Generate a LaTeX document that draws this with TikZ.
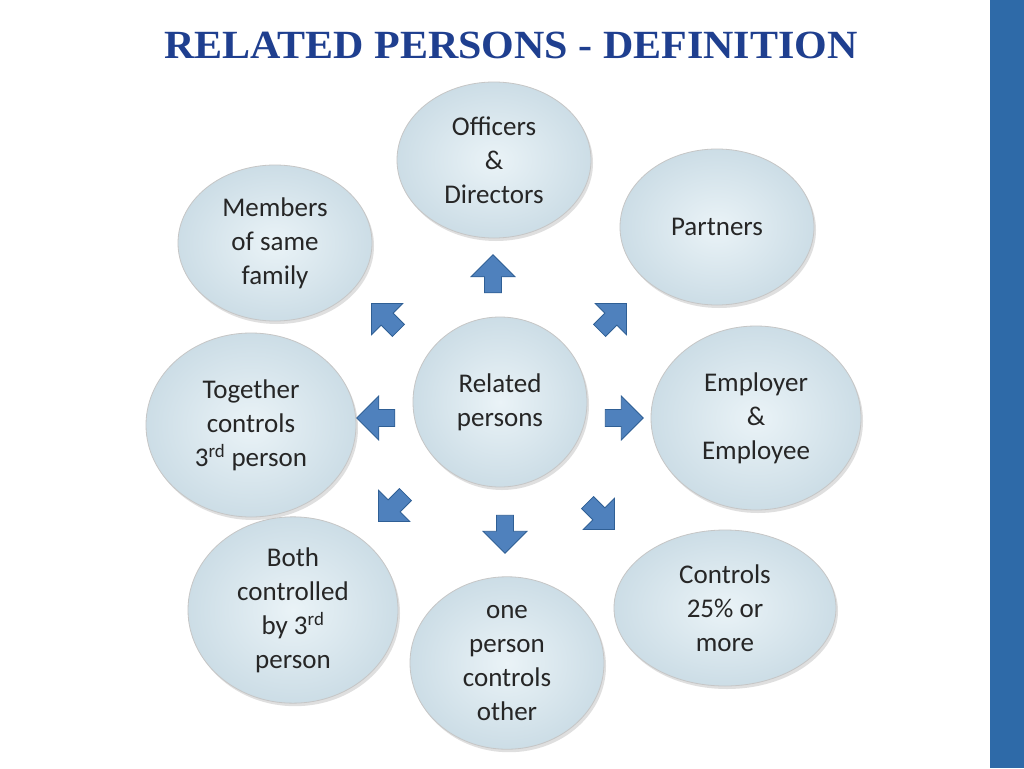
\documentclass[tikz,border=0pt]{standalone}
\usepackage{fontspec}
\setmainfont{Carlito}
\newfontfamily\titlefont{Liberation Serif}
\usetikzlibrary{shapes.arrows,shadows,shapes.geometric}
\definecolor{titleblue}{HTML}{1F3F8F}
\definecolor{barblue}{HTML}{2E6AA8}
\definecolor{arrblue}{HTML}{4F81BD}
\definecolor{arrline}{HTML}{2F5F95}
\definecolor{ellin}{HTML}{EAF3F7}
\definecolor{ellout}{HTML}{CCDDE6}
\tikzset{
  bub/.style={ellipse, draw=gray!45, line width=0.8pt, inner color=ellin, outer color=ellout,
     font=\fontsize{27}{34}\selectfont, align=center, text=black!85,
     drop shadow={shadow xshift=2pt,shadow yshift=-3pt,opacity=0.25}},
  arr/.style={single arrow, draw=arrline, fill=arrblue, line width=0.8pt,
     minimum width=44pt, minimum height=38pt, single arrow head extend=7pt, inner sep=4pt}
}
\begin{document}
\begin{tikzpicture}[x=1pt,y=-1pt]
\useasboundingbox (0,0) rectangle (1024,768);
\fill[white] (0,0) rectangle (1024,768);
\fill[barblue] (990,0) rectangle (1024,768);
\node[font=\titlefont\bfseries\fontsize{40}{44}\selectfont, text=titleblue, xscale=1.05] (title) at (511,45) {RELATED PERSONS - DEFINITION};
\def\bb#1#2#3#4#5#6{\node[bub, minimum width=#4pt, minimum height=#5pt] (#1) at (#2,#3) {#6};}
\bb{off}{494}{160}{194}{156}{Officers\\\&\\Directors}
\bb{par}{717}{227}{194}{156}{Partners}
\bb{mem}{275}{243}{194}{156}{Members\\of same\\family}
\bb{rel}{500}{402}{174}{170}{Related\\persons}
\bb{emp}{756}{418}{210}{184}{Employer\\\&\\Employee}
\bb{tog}{251}{425}{210}{184}{Together\\controls\\3\textsuperscript{rd} person}
\bb{both}{293}{610}{210}{160}{Both\\controlled\\by 3\textsuperscript{rd}\\person}
\bb{con}{725}{608}{222}{156}{Controls\\25\% or\\more}
\bb{one}{507}{663}{194}{170}{one\\person\\controls\\other}
\node[arr, rotate=90] (a1) at (493,278) {};
\node[arr, rotate=45] (a2) at (610,320) {};
\node[arr, rotate=0] (a3) at (620,418) {};
\node[arr, rotate=-45] (a4) at (598,513) {};
\node[arr, rotate=-90] (a5) at (505,530) {};
\node[arr, rotate=-135] (a6) at (395,505) {};
\node[arr, rotate=180] (a7) at (380,418) {};
\node[arr, rotate=135] (a8) at (388,320) {};
\end{tikzpicture}
\end{document}
